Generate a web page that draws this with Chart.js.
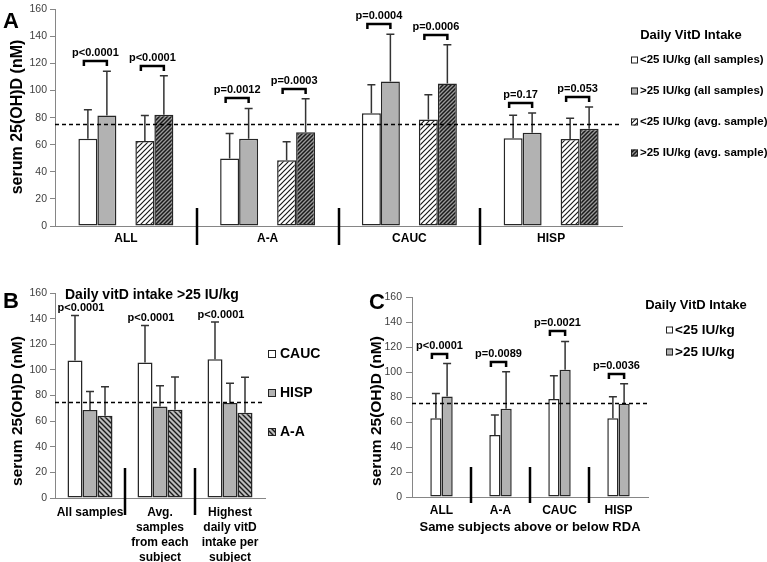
<!DOCTYPE html>
<html>
<head>
<meta charset="utf-8">
<script src="https://cdn.jsdelivr.net/npm/chart.js@4.4.1/dist/chart.umd.min.js"></script>
<style>
  html, body { margin: 0; padding: 0; background: #fff; }
  #wrap { position: relative; width: 767px; height: 562px; overflow: hidden; }
  #wrap canvas { position: absolute; }
</style>
</head>
<body>
<div id="wrap">
  <canvas id="chartA" width="767" height="262" style="left:0;top:0"></canvas>
  <canvas id="chartB" width="360" height="300" style="left:0;top:262px"></canvas>
  <canvas id="chartC" width="407" height="300" style="left:360px;top:262px"></canvas>
</div>
<script>
// ---- shared ----
const yMax = 160;
const yStep = 20;
const rdaLevel = 75;

// ---- panel A: intake groups by ethnicity ----
const groupsA = ['ALL', 'A-A', 'CAUC', 'HISP'];
const namesA = ['<25 IU/kg (all samples)', '>25 IU/kg (all samples)', '<25 IU/kg (avg. sample)', '>25 IU/kg (avg. sample)'];
const lowAll = [64.4, 49.8, 83.2, 64.8];
const lowAllErr = [85.8, 68.3, 104.3, 81.8];
const highAll = [81.5, 64.4, 106.7, 68.9];
const highAllErr = [114.3, 86.8, 141.5, 83.5];
const lowAvg = [62.7, 48.6, 78.7, 64.3];
const lowAvgErr = [81.5, 62.2, 96.9, 79.6];
const highAvg = [82.2, 69.3, 105.2, 71.8];
const highAvgErr = [110.9, 93.9, 133.9, 87.9];
const pAllA = ['p<0.0001', 'p=0.0012', 'p=0.0004', 'p=0.17'];
const pAvgA = ['p<0.0001', 'p=0.0003', 'p=0.0006', 'p=0.053'];

// ---- panel B: intake >25 IU/kg ----
const groupsB = [['All samples'], ['Avg.', 'samples', 'from each', 'subject'], ['Highest', 'daily vitD', 'intake per', 'subject']];
const namesB = ['CAUC', 'HISP', 'A-A'];
const caucB = [107.4, 105.8, 108.2];
const caucBErr = [142.5, 134.7, 137.4];
const hispB = [68.7, 71.5, 74.2];
const hispBErr = [83.2, 87.7, 89.5];
const aaB = [64.2, 68.9, 66.6];
const aaBErr = [86.9, 94.4, 94.2];
const pB = ['p<0.0001', 'p<0.0001', 'p<0.0001'];

// ---- panel C: same subjects above / below RDA ----
const groupsC = ['ALL', 'A-A', 'CAUC', 'HISP'];
const namesC = ['<25 IU/kg', '>25 IU/kg'];
const lowC = [63.0, 49.7, 78.4, 63.0];
const lowCErr = [82.9, 65.6, 97.0, 80.3];
const highC = [80.5, 70.7, 101.8, 74.7];
const highCErr = [106.8, 100.2, 124.4, 90.6];
const pC = ['p<0.0001', 'p=0.0089', 'p=0.0021', 'p=0.0036'];

const SANS = "'Liberation Sans', Arial, Helvetica, sans-serif";
Chart.defaults.font.family = SANS;
Chart.defaults.color = '#000';

function font(size, bold) {
  return (bold ? 'bold ' : '') + size + 'px ' + SANS;
}

// diagonal hatch fill; dir 1 = '/', -1 = '\'
function hatch(bg, line, width, size, dir) {
  const c = document.createElement('canvas');
  c.width = size;
  c.height = size;
  const g = c.getContext('2d');
  g.fillStyle = bg;
  g.fillRect(0, 0, size, size);
  g.strokeStyle = line;
  g.lineWidth = width;
  g.beginPath();
  if (dir > 0) {
    g.moveTo(0, size); g.lineTo(size, 0);
    g.moveTo(-size / 2, size / 2); g.lineTo(size / 2, -size / 2);
    g.moveTo(size / 2, size * 1.5); g.lineTo(size * 1.5, size / 2);
  } else {
    g.moveTo(0, 0); g.lineTo(size, size);
    g.moveTo(-size / 2, size / 2); g.lineTo(size / 2, size * 1.5);
    g.moveTo(size / 2, -size / 2); g.lineTo(size * 1.5, size / 2);
  }
  g.stroke();
  return g.createPattern(c, 'repeat');
}

const WHITE = '#ffffff';
const GRAY = '#b2b2b2';
const lightHatch = hatch('#ffffff', '#1a1a1a', 1.2, 5, 1);
const darkHatch = hatch('#9a9a9a', '#1a1a1a', 1.5, 4, 1);
const backHatch = hatch('#bdbdbd', '#1a1a1a', 1.4, 5, -1);

function barSet(label, data, err, fill) {
  return {
    label, data, errHi: err,
    backgroundColor: fill,
    borderColor: '#262626',
    borderWidth: 1.5,
    borderSkipped: false,
    barPercentage: 1,
  };
}

// error bars, dashed RDA line, separators, brackets, legend and labels
const overlay = {
  id: 'overlay',
  afterDatasetsDraw(chart, args, o) {
    const ctx = chart.ctx;
    const xs = chart.scales.x;
    const ys = chart.scales.y;
    const area = chart.chartArea;
    ctx.save();

    // upper error bars
    ctx.strokeStyle = '#333';
    ctx.lineWidth = 1.5;
    chart.data.datasets.forEach((ds, di) => {
      if (!ds.errHi) return;
      chart.getDatasetMeta(di).data.forEach((bar, i) => {
        const top = ys.getPixelForValue(ds.errHi[i]);
        ctx.beginPath();
        ctx.moveTo(bar.x, bar.y);
        ctx.lineTo(bar.x, top);
        ctx.moveTo(bar.x - o.cap, top);
        ctx.lineTo(bar.x + o.cap, top);
        ctx.stroke();
      });
    });

    // dashed reference line
    const ry = Math.round(ys.getPixelForValue(rdaLevel)) + 0.5;
    ctx.strokeStyle = '#000';
    ctx.setLineDash([4, 3]);
    ctx.beginPath();
    ctx.moveTo(area.left, ry);
    ctx.lineTo(area.right, ry);
    ctx.stroke();
    ctx.setLineDash([]);

    // group separators
    ctx.lineWidth = 2.5;
    for (let i = 1; i < chart.data.labels.length; i++) {
      const sx = Math.round((xs.getPixelForValue(i - 1) + xs.getPixelForValue(i)) / 2);
      ctx.beginPath();
      ctx.moveTo(sx, area.bottom - o.sepUp);
      ctx.lineTo(sx, area.bottom + o.sepDown);
      ctx.stroke();
    }

    // significance brackets
    ctx.fillStyle = '#000';
    ctx.font = font(11, true);
    ctx.textAlign = 'center';
    ctx.textBaseline = 'bottom';
    (o.brackets || []).forEach((br) => {
      const da = chart.data.datasets[br.a];
      const db = chart.data.datasets[br.b];
      const ma = chart.getDatasetMeta(br.a).data;
      const mb = chart.getDatasetMeta(br.b).data;
      br.text.forEach((t, i) => {
        const x1 = ma[i].x - 4;
        const x2 = mb[i].x;
        const by = Math.round(Math.min(ys.getPixelForValue(da.errHi[i]), ys.getPixelForValue(db.errHi[i])) - 10);
        ctx.lineWidth = 2.5;
        ctx.beginPath();
        ctx.moveTo(x1, by + 5);
        ctx.lineTo(x1, by);
        ctx.lineTo(x2, by);
        ctx.lineTo(x2, by + 5);
        ctx.stroke();
        ctx.fillText(t, (x1 + x2) / 2, by - 3);
      });
    });

    // p labels above a single series
    if (o.tops) {
      const ds = chart.data.datasets[o.tops.ds];
      const meta = chart.getDatasetMeta(o.tops.ds).data;
      ctx.textBaseline = 'middle';
      o.tops.text.forEach((t, i) => {
        ctx.fillText(t, meta[i].x + o.tops.dx, ys.getPixelForValue(ds.errHi[i]) - 7);
      });
    }
    ctx.restore();
  },
  afterDraw(chart, args, o) {
    const ctx = chart.ctx;
    ctx.save();
    ctx.fillStyle = '#000';

    // panel letter
    ctx.font = font(22, true);
    ctx.textAlign = 'left';
    ctx.textBaseline = 'alphabetic';
    ctx.fillText(o.letter.text, o.letter.x, o.letter.y);

    // y axis title
    ctx.save();
    ctx.translate(o.yTitle.x, o.yTitle.y);
    ctx.rotate(-Math.PI / 2);
    ctx.font = font(o.yTitle.size, true);
    ctx.textAlign = 'center';
    ctx.textBaseline = 'middle';
    ctx.fillText('serum 25(OH)D (nM)', 0, 0);
    ctx.restore();

    if (o.caption) {
      ctx.font = font(o.caption.size, true);
      ctx.textAlign = 'left';
      ctx.textBaseline = 'middle';
      ctx.fillText(o.caption.text, o.caption.x, o.caption.y);
    }

    // legend
    const lg = o.legend;
    if (lg.title) {
      ctx.font = font(13, true);
      ctx.textAlign = 'center';
      ctx.textBaseline = 'middle';
      ctx.fillText(lg.title, lg.titleX, lg.titleY);
    }
    ctx.font = font(lg.size, true);
    ctx.textAlign = 'left';
    ctx.textBaseline = 'middle';
    lg.items.forEach((di, k) => {
      const ds = chart.data.datasets[di];
      const cy = lg.ys[k];
      const b = lg.box;
      ctx.fillStyle = ds.backgroundColor;
      ctx.fillRect(lg.boxX, cy - b / 2, b, b);
      ctx.strokeStyle = '#222';
      ctx.lineWidth = 1;
      ctx.strokeRect(lg.boxX + 0.5, cy - b / 2 + 0.5, b - 1, b - 1);
      ctx.fillStyle = '#000';
      ctx.fillText(ds.label, lg.textX, cy);
    });
    ctx.restore();
  }
};

function axes(yWidth, xHeight, tickPad, tickLen, xPad, xSize) {
  return {
    x: {
      grid: { display: false, drawTicks: false },
      border: { color: '#868686' },
      ticks: { color: '#000', font: { size: xSize, weight: 'bold' }, padding: xPad, maxRotation: 0, autoSkip: false },
      afterFit: (s) => { s.height = xHeight; },
    },
    y: {
      min: 0,
      max: yMax,
      ticks: { stepSize: yStep, color: '#404040', font: { size: 10.5 }, padding: tickPad },
      grid: { drawOnChartArea: false, drawTicks: true, tickLength: tickLen, color: '#868686' },
      border: { color: '#868686' },
      afterFit: (s) => { s.width = yWidth; },
    },
  };
}

const base = {
  responsive: false,
  animation: false,
  devicePixelRatio: 1,
  events: [],
};

// ---- panel A ----
new Chart(document.getElementById('chartA'), {
  type: 'bar',
  data: {
    labels: groupsA,
    datasets: [
      barSet(namesA[0], lowAll, lowAllErr, WHITE),
      barSet(namesA[1], highAll, highAllErr, GRAY),
      { label: '', data: groupsA.map(() => null), backgroundColor: WHITE, barPercentage: 1 },
      barSet(namesA[2], lowAvg, lowAvgErr, lightHatch),
      barSet(namesA[3], highAvg, highAvgErr, darkHatch),
    ],
  },
  options: {
    ...base,
    datasets: { bar: { categoryPercentage: 0.67 } },
    layout: { padding: { left: 0, top: 7, right: 145, bottom: 0 } },
    scales: axes(55, 36, 3, 5, 5, 12),
    plugins: {
      legend: { display: false },
      tooltip: { enabled: false },
      overlay: {
        cap: 4,
        sepUp: 18,
        sepDown: 19,
        brackets: [
          { a: 0, b: 1, text: pAllA },
          { a: 3, b: 4, text: pAvgA },
        ],
        letter: { text: 'A', x: 3, y: 28 },
        yTitle: { x: 18, y: 117, size: 16 },
        legend: {
          title: 'Daily VitD Intake', titleX: 691, titleY: 35,
          items: [0, 1, 3, 4], ys: [60, 91, 122, 153],
          box: 7, boxX: 631, textX: 640, size: 11.5,
        },
      },
    },
  },
  plugins: [overlay],
});

// ---- panel B ----
new Chart(document.getElementById('chartB'), {
  type: 'bar',
  data: {
    labels: groupsB,
    datasets: [
      barSet(namesB[0], caucB, caucBErr, WHITE),
      barSet(namesB[1], hispB, hispBErr, GRAY),
      barSet(namesB[2], aaB, aaBErr, backHatch),
    ],
  },
  options: {
    ...base,
    datasets: { bar: { categoryPercentage: 0.643 } },
    layout: { padding: { left: 0, top: 31, right: 95, bottom: 0 } },
    scales: (() => {
      const s = axes(55, 64, 3, 5, 7, 12);
      s.x.ticks.font.lineHeight = 1.25;
      return s;
    })(),
    plugins: {
      legend: { display: false },
      tooltip: { enabled: false },
      overlay: {
        cap: 4,
        sepUp: 30,
        sepDown: 17,
        tops: { ds: 0, text: pB, dx: 6 },
        letter: { text: 'B', x: 3, y: 46 },
        yTitle: { x: 18, y: 149, size: 15.5 },
        caption: { text: 'Daily vitD intake >25 IU/kg', x: 65, y: 33, size: 14 },
        legend: {
          items: [0, 1, 2], ys: [92, 131, 170],
          box: 8, boxX: 268, textX: 280, size: 14,
        },
      },
    },
  },
  plugins: [overlay],
});

// ---- panel C ----
new Chart(document.getElementById('chartC'), {
  type: 'bar',
  data: {
    labels: groupsC,
    datasets: [
      barSet(namesC[0], lowC, lowCErr, WHITE),
      barSet(namesC[1], highC, highCErr, GRAY),
    ],
  },
  options: {
    ...base,
    datasets: { bar: { categoryPercentage: 0.38 } },
    layout: { padding: { left: 0, top: 35, right: 119, bottom: 0 } },
    scales: (() => {
      const s = axes(52, 65, 4, 6, 6, 12);
      s.x.title = {
        display: true,
        text: 'Same subjects above or below RDA',
        color: '#000',
        font: { size: 13, weight: 'bold' },
        padding: { top: 0, bottom: 27 },
      };
      return s;
    })(),
    plugins: {
      legend: { display: false },
      tooltip: { enabled: false },
      overlay: {
        cap: 4,
        sepUp: 30,
        sepDown: 6,
        brackets: [{ a: 0, b: 1, text: pC }],
        letter: { text: 'C', x: 9, y: 47 },
        yTitle: { x: 17, y: 149, size: 15.5 },
        legend: {
          title: 'Daily VitD Intake', titleX: 336, titleY: 43,
          items: [0, 1], ys: [68, 90],
          box: 7, boxX: 306, textX: 315, size: 13.5,
        },
      },
    },
  },
  plugins: [overlay],
});
</script>
</body>
</html>
